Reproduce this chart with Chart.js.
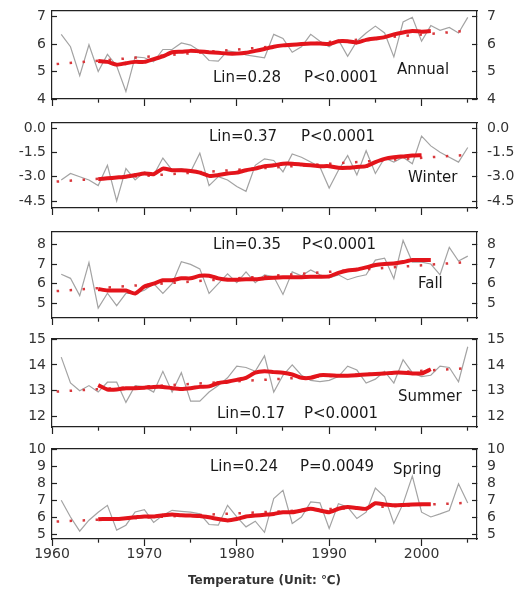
<!DOCTYPE html>
<html>
<head>
<meta charset="utf-8">
<script src="https://cdn.jsdelivr.net/npm/chart.js@4.4.1/dist/chart.umd.min.js"></script>
<style>
  body { margin: 0; background: #fff; width: 525px; height: 589px; position: relative; overflow: hidden; }
  canvas { position: absolute; left: 0; }
</style>
</head>
<body>
<canvas id="annual"></canvas>
<canvas id="winter"></canvas>
<canvas id="fall"></canvas>
<canvas id="summer"></canvas>
<canvas id="spring"></canvas>
<script>
// years of the observed series
var years = [1961, 1962, 1963, 1964, 1965, 1966, 1967, 1968, 1969, 1970,
             1971, 1972, 1973, 1974, 1975, 1976, 1977, 1978, 1979, 1980,
             1981, 1982, 1983, 1984, 1985, 1986, 1987, 1988, 1989, 1990,
             1991, 1992, 1993, 1994, 1995, 1996, 1997, 1998, 1999, 2000,
             2001, 2002, 2003, 2004, 2005];
// years of the smoothed (moving average) curve
var smoothYears = [1965, 1966, 1967, 1968, 1969, 1970, 1971, 1972, 1973, 1974,
                   1975, 1976, 1977, 1978, 1979, 1980, 1981, 1982, 1983, 1984,
                   1985, 1986, 1987, 1988, 1989, 1990, 1991, 1992, 1993, 1994,
                   1995, 1996, 1997, 1998, 1999, 2000, 2001];
var trendYears = [1960.5, 2005];

var annualObs = [6.35, 5.9, 4.85, 5.97, 5.0, 5.62, 5.2, 4.27, 5.53, 5.5,
                 5.35, 5.8, 5.8, 6.04, 5.96, 5.75, 5.4, 5.38, 5.75, 5.7,
                 5.6, 5.55, 5.5, 6.35, 6.2, 5.7, 5.9, 6.35, 6.1, 5.9,
                 6.15, 5.55, 6.1, 6.4, 6.65, 6.4, 5.53, 6.8, 6.97, 6.1,
                 6.67, 6.5, 6.6, 6.4, 6.97];
var annualSmooth = [5.38, 5.35, 5.25, 5.3, 5.35, 5.35, 5.45, 5.55, 5.7, 5.72,
                    5.75, 5.73, 5.7, 5.68, 5.65, 5.65, 5.68, 5.75, 5.82, 5.9,
                    5.95, 5.97, 6.0, 6.02, 6.02, 6.0, 6.1, 6.1, 6.05, 6.15,
                    6.2, 6.25, 6.35, 6.42, 6.47, 6.45, 6.47];
var annualTrend = [5.27, 6.48];

var winterObs = [-3.2, -2.8, -3.0, -3.2, -3.55, -2.3, -4.5, -2.5, -3.2, -2.7,
                 -2.9, -1.85, -2.6, -2.5, -2.7, -1.55, -3.55, -3.0, -3.2, -3.6,
                 -3.9, -2.3, -1.9, -2.0, -2.7, -1.6, -1.8, -2.1, -2.4, -3.7,
                 -2.6, -1.7, -2.9, -1.4, -2.8, -1.85, -2.1, -1.8, -2.2, -0.5,
                 -1.1, -1.5, -1.8, -2.1, -1.2];
var winterSmooth = [-3.15, -3.1, -3.05, -3.0, -2.9, -2.8, -2.85, -2.5, -2.6, -2.6,
                    -2.65, -2.75, -2.95, -2.9, -2.8, -2.75, -2.6, -2.5, -2.35, -2.3,
                    -2.2, -2.2, -2.25, -2.3, -2.35, -2.35, -2.45, -2.45, -2.4, -2.35,
                    -2.1, -1.9, -1.8, -1.75, -1.7, -1.68, null];
var winterTrend = [-3.3, -1.65];

var fallObs = [6.48, 6.27, 5.39, 7.07, 4.75, 5.51, 4.88, 5.5, 5.5, 5.66,
               6.0, 5.5, 6.0, 7.12, 6.98, 6.75, 5.5, 6.0, 6.5, 6.05,
               6.6, 6.05, 6.45, 6.35, 5.45, 6.6, 6.4, 6.7, 6.45, 6.3,
               6.45, 6.2, 6.35, 6.45, 7.2, 7.3, 6.25, 8.2, 7.1, 7.1,
               7.0, 6.45, 7.85, 7.15, 7.4];
var fallSmooth = [5.73, 5.65, 5.65, 5.65, 5.5, 5.85, 6.0, 6.17, 6.17, 6.27,
                  6.27, 6.4, 6.4, 6.27, 6.2, 6.2, 6.22, 6.22, 6.27, 6.3,
                  6.32, 6.32, 6.33, 6.35, 6.35, 6.37, 6.55, 6.67, 6.72, 6.83,
                  6.95, 7.0, 7.02, 7.1, 7.2, 7.2, 7.2];
var fallTrend = [5.62, 7.1];

var summerObs = [14.3, 13.3, 13.0, 13.2, 12.95, 13.33, 13.33, 12.55, 13.2, 13.15,
                 12.95, 13.75, 12.95, 13.7, 12.6, 12.6, 12.95, 13.2, 13.5, 13.95,
                 13.9, 13.75, 14.35, 12.95, 13.6, 14.0, 13.6, 13.4, 13.35, 13.4,
                 13.55, 13.95, 13.8, 13.3, 13.45, 13.75, 13.3, 14.2, 13.7, 13.55,
                 13.6, 13.95, 13.9, 13.35, 14.7];
var summerSmooth = [13.22, 13.05, 13.05, 13.1, 13.1, 13.12, 13.15, 13.15, 13.1, 13.07,
                    13.1, 13.15, 13.17, 13.3, 13.35, 13.42, 13.5, 13.7, 13.75, 13.72,
                    13.7, 13.63, 13.5, 13.5, 13.6, 13.6, 13.58, 13.58, 13.6, 13.63,
                    13.65, 13.67, 13.7, 13.7, 13.67, 13.67, 13.83];
var summerTrend = [12.97, 13.87];

var springObs = [7.0, 6.02, 5.19, 5.83, 6.3, 6.7, 5.25, 5.54, 6.31, 6.45,
                 5.7, 6.12, 6.41, 6.35, 6.3, 6.2, 5.58, 5.54, 6.7, 6.02,
                 5.44, 5.77, 5.12, 7.1, 7.58, 5.64, 6.02, 6.9, 6.85, 5.35,
                 6.8, 6.6, 5.93, 6.3, 7.71, 7.2, 5.64, 6.8, 8.41, 6.3,
                 6.02, 6.2, 6.4, 7.96, 6.84];
var springSmooth = [5.89, 5.9, 5.9, 5.95, 6.0, 6.05, 6.05, 6.12, 6.17, 6.12,
                    6.1, 6.08, 6.0, 5.9, 5.82, 5.9, 6.05, 6.1, 6.15, 6.2,
                    6.3, 6.3, 6.4, 6.5, 6.4, 6.3, 6.5, 6.6, 6.55, 6.5,
                    6.82, 6.75, 6.7, 6.72, 6.75, 6.77, 6.77];
var springTrend = [5.75, 6.85];

// panel layout: plot box top/bottom in page pixels, axis range, texts (dx, dy from box corner)
var panels = [
  { id: 'annual', obs: annualObs, smooth: annualSmooth, trend: annualTrend,
    min: 4, max: 7.2, step: 1, dec: 0, top: 11, bottom: 99,
    texts: [['Lin=0.28', 161, 67], ['P<0.0001', 252, 67], ['Annual', 345, 59]] },
  { id: 'winter', obs: winterObs, smooth: winterSmooth, trend: winterTrend,
    min: -4.93, max: 0.31, step: 1.5, dec: 1, top: 123, bottom: 208,
    texts: [['Lin=0.37', 157, 14], ['P<0.0001', 249, 14], ['Winter', 356, 55]] },
  { id: 'fall', obs: fallObs, smooth: fallSmooth, trend: fallTrend,
    min: 4.25, max: 8.63, step: 1, dec: 0, top: 232, bottom: 318,
    texts: [['Lin=0.35', 161, 13], ['P<0.0001', 250, 13], ['Fall', 366, 52]] },
  { id: 'summer', obs: summerObs, smooth: summerSmooth, trend: summerTrend,
    min: 11.6, max: 15, step: 1, dec: 0, top: 339, bottom: 427,
    texts: [['Summer', 346, 58], ['Lin=0.17', 165, 75], ['P<0.0001', 252, 75]] },
  { id: 'spring', obs: springObs, smooth: springSmooth, trend: springTrend,
    min: 4.73, max: 10, step: 1, dec: 0, top: 449, bottom: 539,
    texts: [['Lin=0.24', 158, 18], ['P=0.0049', 248, 18], ['Spring', 341, 21]] }
];

var FONT = 'DejaVu Sans';
var AXIS = '#222';
// vertical room Chart.js keeps above/below the box for y labels: half label height + tick padding
var PAD_L = 11, PAD_R = 15, LABEL_H = 14;
var EDGE = LABEL_H / 2 + Math.max(PAD_L, PAD_R);

// writes the Lin/P and season texts inside the plot box
var panelText = {
  id: 'panelText',
  afterDatasetsDraw: function (chart, args, opts) {
    var ctx = chart.ctx, area = chart.chartArea;
    ctx.save();
    ctx.fillStyle = '#1a1a1a';
    ctx.font = '15px "' + FONT + '"';
    ctx.textBaseline = 'middle';
    ctx.textAlign = 'left';
    (opts.items || []).forEach(function (t) {
      ctx.fillText(t[0], area.left + t[1], area.top + t[2]);
    });
    ctx.restore();
  }
};

function pairs(xs, ys) {
  return xs.map(function (x, i) { return { x: x, y: ys[i] }; });
}

function yAxis(p, pos) {
  return {
    type: 'linear',
    position: pos,
    min: p.min,
    max: p.max,
    border: { color: AXIS, width: 1.2 },
    grid: { drawOnChartArea: false, tickLength: -5, tickColor: AXIS, tickWidth: 1.2 },
    ticks: {
      stepSize: p.step,
      includeBounds: false,
      autoSkip: false,
      padding: pos === 'left' ? PAD_L : PAD_R,
      color: '#333',
      font: { family: FONT, size: 14, lineHeight: 1 },
      callback: function (v) { return p.dec ? v.toFixed(1) : String(v); }
    },
    afterFit: function (s) { s.width = pos === 'left' ? 52 : 48; }
  };
}

panels.forEach(function (p, idx) {
  var last = idx === panels.length - 1;
  var xH = last ? 50 : 9;
  var below = Math.max(xH, EDGE);
  var canvas = document.getElementById(p.id);
  canvas.width = 525;
  canvas.height = (p.bottom - p.top) + EDGE + below;
  canvas.style.top = (p.top - EDGE) + 'px';

  new Chart(canvas.getContext('2d'), {
    type: 'line',
    data: {
      datasets: [
        { // smoothed curve
          data: pairs(smoothYears, p.smooth),
          borderColor: '#e3141b',
          borderWidth: 4,
          pointRadius: 0,
          tension: 0.2
        },
        { // linear trend
          data: pairs(trendYears, p.trend),
          borderColor: '#d8383c',
          borderWidth: 2.5,
          borderDash: [2.5, 10.5],
          pointRadius: 0
        },
        { // observed
          data: pairs(years, p.obs),
          borderColor: '#a3a3a3',
          borderWidth: 1.2,
          pointRadius: 0,
          tension: 0
        }
      ]
    },
    options: {
      responsive: false,
      animation: false,
      devicePixelRatio: 1,
      layout: { padding: 0 },
      plugins: {
        legend: { display: false },
        tooltip: { enabled: false },
        panelText: { items: p.texts }
      },
      scales: {
        x: {
          type: 'linear',
          position: 'bottom',
          min: 1960,
          max: 2006,
          border: { color: AXIS, width: 1.2 },
          grid: {
            drawOnChartArea: false,
            tickLength: 7,
            tickColor: AXIS,
            tickWidth: 1.2,
            tickBorderDash: function (c) {
              return c.tick && c.tick.value % 10 !== 0 ? [3.5, 20] : [];
            }
          },
          ticks: {
            stepSize: 5,
            includeBounds: false,
            autoSkip: false,
            maxRotation: 0,
            padding: 0,
            color: '#333',
            font: { family: FONT, size: 14 },
            callback: function (v) { return last && v % 10 === 0 ? String(v) : ''; }
          },
          title: {
            display: last,
            text: 'Temperature (Unit: \u2103)',
            color: '#333',
            font: { family: FONT, size: 12, weight: 'bold' },
            padding: { top: 0, bottom: 1 }
          },
          afterFit: function (s) { s.height = xH; }
        },
        xTop: {
          type: 'linear',
          position: 'top',
          border: { color: AXIS, width: 1.2 },
          grid: { drawOnChartArea: false, drawTicks: false },
          ticks: { display: false },
          afterFit: function (s) { s.height = 0; }
        },
        y: yAxis(p, 'left'),
        yR: yAxis(p, 'right')
      }
    },
    plugins: [panelText]
  });
});
</script>
</body>
</html>
